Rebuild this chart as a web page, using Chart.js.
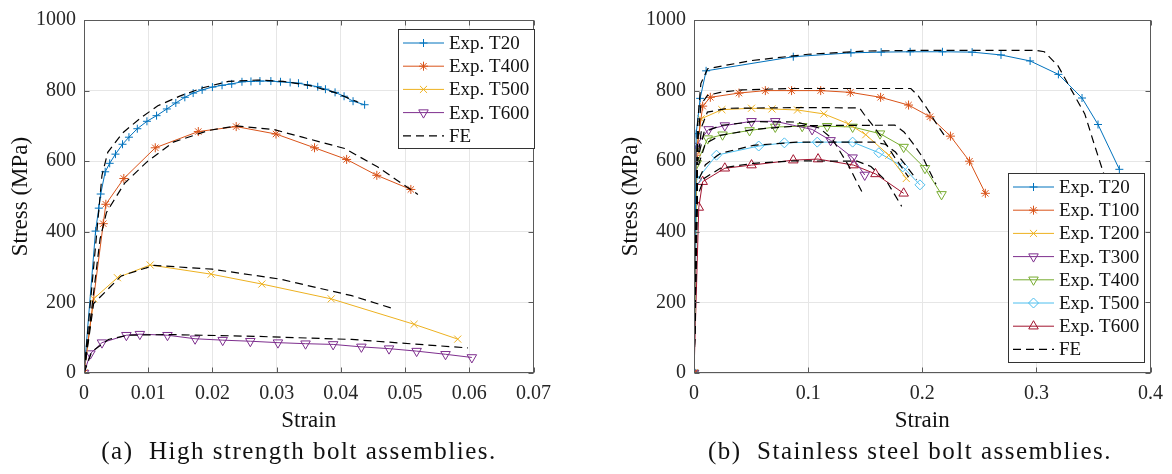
<!DOCTYPE html>
<html>
<head>
<meta charset="utf-8">
<script src="https://cdn.jsdelivr.net/npm/chart.js@4.4.1/dist/chart.umd.min.js"></script>
<style>
body{margin:0;background:#fff;width:1172px;height:474px;position:relative;overflow:hidden;font-family:"Liberation Serif",serif}
canvas{position:absolute;top:0}
#c1{left:0}
#c2{left:610px}
.cap{position:absolute;top:437px;font-size:25px;letter-spacing:1.5px;white-space:pre;transform:translateX(-50%);color:#111}
</style>
</head>
<body>
<canvas id="c1" width="560" height="440"></canvas>
<canvas id="c2" width="562" height="440"></canvas>
<div class="cap" style="left:299px">(a)  High strength bolt assemblies.</div>
<div class="cap" style="left:910px">(b)  Stainless steel bolt assemblies.</div>
<script>
// (a) high strength bolts, [strain, stress MPa]
const hsT20 = [[0,0],[0.0018,402],[0.0023,467],[0.0026,507],[0.0033,570],[0.0040,594],[0.0049,620],[0.0060,648],[0.0070,668],[0.0083,692],[0.0098,713],[0.0113,729],[0.0129,748],[0.0143,765],[0.0157,781],[0.0170,793],[0.0184,802],[0.0200,810],[0.0215,815],[0.0230,819],[0.0246,825],[0.0260,826],[0.0274,827],[0.0291,827],[0.0306,825],[0.0321,823],[0.0334,821],[0.0348,816],[0.0364,811],[0.0376,804],[0.0391,795],[0.0405,784],[0.0419,770],[0.0437,760]]
const hsT400 = [[0,0],[0.0030,423],[0.0034,478],[0.0062,551],[0.0111,638],[0.0178,684],[0.0237,698],[0.0299,677],[0.0359,638],[0.0409,605],[0.0456,560],[0.0509,520]]
const hsT500 = [[0,0],[0.0015,210],[0.0052,270],[0.0103,306],[0.0198,280],[0.0277,252],[0.0385,210],[0.0514,138],[0.0582,96]]
const hsT600 = [[0,0],[0.0010,55],[0.0028,86],[0.0066,107],[0.0087,110],[0.0130,107],[0.0173,97],[0.0216,93],[0.0259,90],[0.0302,86],[0.0345,83],[0.0388,81],[0.0432,74],[0.0475,69],[0.0518,62],[0.0563,53],[0.0604,44]]
const hsFE20 = [[0,0],[0.0028,560],[0.0037,625],[0.0060,680],[0.0090,725],[0.0115,757],[0.0150,785],[0.0185,808],[0.0225,826],[0.0270,830],[0.0310,826],[0.0350,815],[0.0390,795],[0.0427,767]]
const hsFE400 = [[0,0],[0.0025,380],[0.0035,455],[0.0063,537],[0.0098,598],[0.0139,654],[0.0194,687],[0.0237,700],[0.0295,690],[0.0340,668],[0.0406,636],[0.0457,584],[0.0520,506]]
const hsFE500 = [[0,0],[0.0015,197],[0.0058,275],[0.0109,305],[0.0200,294],[0.0305,266],[0.0417,219],[0.0482,182]]
const hsFE600 = [[0,0],[0.0012,60],[0.0038,95],[0.0068,107],[0.0129,109],[0.0265,104],[0.0417,95],[0.0598,71]]

// (b) stainless steel bolts
const ssT20 = [[0,0],[0.0019,678],[0.0054,778],[0.0106,856],[0.087,896],[0.1375,907],[0.164,909],[0.1894,910],[0.2177,910],[0.2437,909],[0.269,901],[0.2945,884],[0.3193,846],[0.340,779],[0.354,704],[0.3727,577]]
const ssT100 = [[0,0],[0.0019,617],[0.0076,756],[0.0143,781],[0.0394,793],[0.0625,800],[0.0855,800],[0.111,800],[0.137,795],[0.1635,781],[0.188,759],[0.2068,726],[0.2247,671],[0.2414,600],[0.2553,509]]
const ssT200 = [[0,0],[0.0020,630],[0.0062,720],[0.0244,746],[0.0504,750],[0.0683,748],[0.0907,745],[0.1138,734],[0.1352,706],[0.1505,675],[0.1707,617],[0.186,551]]
const ssT300 = [[0,0],[0.0013,643],[0.0128,690],[0.027,701],[0.0504,713],[0.0712,713],[0.1035,690],[0.1197,659],[0.139,610],[0.1496,561]]
const ssT400 = [[0,0],[0.0024,594],[0.012,664],[0.025,675],[0.0487,687],[0.0712,697],[0.0948,699],[0.1167,699],[0.139,697],[0.163,678],[0.1837,640],[0.2024,580],[0.2169,506]]
const ssT500 = [[0,0],[0.0024,547],[0.0197,617],[0.0567,643],[0.0792,652],[0.108,654],[0.139,654],[0.162,624],[0.183,584],[0.198,533]]
const ssT600 = [[0,0],[0.0042,469],[0.0076,542],[0.027,580],[0.0504,589],[0.087,603],[0.1087,606],[0.1398,589],[0.159,564],[0.1837,509]]
const ssFE20 = [[0,0],[0.003,700],[0.006,820],[0.012,862],[0.05,885],[0.1,903],[0.15,912],[0.2,914],[0.25,914],[0.3,914],[0.307,910],[0.319,870],[0.331,800],[0.3424,734],[0.351,645],[0.359,565]]
const ssFE100 = [[0,0],[0.003,640],[0.006,760],[0.0117,786],[0.023,795],[0.042,802],[0.0855,806],[0.19,806],[0.1965,785],[0.204,750],[0.2125,706],[0.221,665]]
const ssFE200 = [[0,0],[0.003,600],[0.007,700],[0.0117,739],[0.03,750],[0.1,752],[0.145,751],[0.149,733],[0.156,704],[0.165,665],[0.175,615],[0.188,555]]
const ssFE300 = [[0,0],[0.003,600],[0.0088,682],[0.023,701],[0.052,712],[0.0896,711],[0.1098,694],[0.121,664],[0.135,590],[0.147,514]]
const ssFE400 = [[0,0],[0.003,580],[0.01,650],[0.023,673],[0.052,690],[0.095,701],[0.176,702],[0.184,683],[0.192,650],[0.201,608],[0.2066,570],[0.212,535]]
const ssFE500 = [[0,0],[0.003,540],[0.01,590],[0.023,622],[0.052,645],[0.09,654],[0.158,654],[0.1675,648],[0.1765,626],[0.1866,584],[0.195,548]]
const ssFE600 = [[0,0],[0.003,500],[0.0088,551],[0.023,580],[0.052,594],[0.087,601],[0.143,600],[0.155,585],[0.169,542],[0.182,472]]

const hsLabels = ['Exp. T20','Exp. T400','Exp. T500','Exp. T600']
const ssLabels = ['Exp. T20','Exp. T100','Exp. T200','Exp. T300','Exp. T400','Exp. T500','Exp. T600']
const yTicks = [0,200,400,600,800,1000]

const BLUE='#0072BD', ORANGE='#D95319', YELLOW='#EDB120', PURPLE='#7E2F8E', GREEN='#77AC30', CYAN='#4DBEEE', RED='#A2142F'

const FONT = "'Liberation Serif', 'DejaVu Serif', serif"
Chart.defaults.font.family = FONT
Chart.defaults.color = '#262626'

function exp(label, pts, color, style, rot, r){
  return {
    label: label,
    data: pts.map(p => ({x:p[0], y:p[1]})),
    borderColor: color, borderWidth: 1,
    pointStyle: style, pointRotation: rot, pointRadius: r,
    pointBorderColor: color, pointBackgroundColor: 'rgba(0,0,0,0)', pointBorderWidth: 1,
    tension: 0, fill: false
  }
}
function fe(pts){
  return {
    label: 'FE',
    data: pts.map(p => ({x:p[0], y:p[1]})),
    borderColor: '#000', borderWidth: 1.2, borderDash: [8,5],
    pointRadius: 0, tension: 0, fill: false, order: -1
  }
}

// box round the plot with inward ticks, like matlab
const framePlugin = {
  id: 'frame',
  afterDraw(chart){
    const ctx = chart.ctx, a = chart.chartArea
    const xs = chart.scales.x, ys = chart.scales.y
    ctx.save()
    ctx.strokeStyle = '#5a5a5a'
    ctx.lineWidth = 1
    const L = Math.round(a.left)+0.5, R = Math.round(a.right)-0.5
    const T = Math.round(a.top)+0.5, B = Math.round(a.bottom)-0.5
    ctx.strokeRect(L, T, R-L, B-T)
    ctx.beginPath()
    xs.ticks.forEach(t => {
      const px = Math.round(xs.getPixelForValue(t.value))+0.5
      ctx.moveTo(px, B); ctx.lineTo(px, B-5)
      ctx.moveTo(px, T); ctx.lineTo(px, T+5)
    })
    ys.ticks.forEach(t => {
      const py = Math.round(ys.getPixelForValue(t.value))+0.5
      ctx.moveTo(L, py); ctx.lineTo(L+5, py)
      ctx.moveTo(R, py); ctx.lineTo(R-5, py)
    })
    ctx.stroke()

    // legend box
    const lg = chart.options.plugins.boxLegend
    const items = lg.items
    ctx.fillStyle = '#fff'
    ctx.fillRect(lg.x, lg.y, lg.w, lg.h)
    ctx.strokeStyle = '#333'
    ctx.strokeRect(lg.x+0.5, lg.y+0.5, lg.w, lg.h)
    ctx.font = '19px ' + FONT
    ctx.textBaseline = 'middle'
    items.forEach((it, i) => {
      const cy = lg.y + 14 + i*23.2
      const x0 = lg.x + 5, x1 = lg.x + 46
      ctx.save()
      ctx.strokeStyle = it.color
      ctx.lineWidth = it.dash ? 1.2 : 1
      ctx.setLineDash(it.dash || [])
      ctx.beginPath(); ctx.moveTo(x0, cy); ctx.lineTo(x1, cy); ctx.stroke()
      ctx.setLineDash([])
      if (it.style){
        ctx.fillStyle = 'rgba(0,0,0,0)'
        Chart.helpers.drawPoint(ctx, {pointStyle: it.style, rotation: it.rot, radius: it.r, borderWidth: 1}, (x0+x1)/2, cy)
      }
      ctx.restore()
      ctx.fillStyle = '#111'
      ctx.fillText(it.label, lg.x + 51, cy + 1)
    })
    ctx.restore()
  }
}

function makeOptions(xmax, xstep, dec, legend){
  return {
    responsive: false, animation: false, events: [],
    layout: {padding: {top: 17, right: 14, left: 0, bottom: 0}},
    plugins: {legend: {display: false}, tooltip: {enabled: false}, boxLegend: legend},
    scales: {
      x: {
        type: 'linear', min: 0, max: xmax,
        ticks: {stepSize: xstep, padding: 9, font: {family: FONT, size: 20}, color: '#262626',
          callback: v => String(+v.toFixed(dec))},
        grid: {color: '#e6e6e6', drawTicks: false},
        border: {display: false},
        title: {display: true, text: 'Strain', font: {family: FONT, size: 23}, color: '#111', padding: {top: 0, bottom: 5}},
        afterFit: s => { s.height = 67 }
      },
      y: {
        type: 'linear', min: 0, max: 1000,
        afterBuildTicks: s => { s.ticks = yTicks.map(v => ({value: v})) },
        ticks: {padding: 8, font: {family: FONT, size: 20}, color: '#262626', callback: v => String(v)},
        grid: {color: '#e6e6e6', drawTicks: false},
        border: {display: false},
        title: {display: true, text: 'Stress (MPa)', font: {family: FONT, size: 23}, color: '#111', padding: {top: 7, bottom: 0}},
        afterFit: s => { s.width = 84 }
      }
    }
  }
}

const DASH = [8,5]

new Chart(document.getElementById('c1'), {
  type: 'line',
  data: {datasets: [
    exp(hsLabels[0], hsT20, BLUE, 'cross', 0, 4),
    exp(hsLabels[1], hsT400, ORANGE, 'star', 0, 4.5),
    exp(hsLabels[2], hsT500, YELLOW, 'crossRot', 0, 5),
    exp(hsLabels[3], hsT600, PURPLE, 'triangle', 180, 5.5),
    fe(hsFE20), fe(hsFE400), fe(hsFE500), fe(hsFE600)
  ]},
  options: makeOptions(0.07, 0.01, 2, {
    x: 398, y: 29, w: 136, h: 119,
    items: [
      {label: hsLabels[0], color: BLUE, style: 'cross', rot: 0, r: 4},
      {label: hsLabels[1], color: ORANGE, style: 'star', rot: 0, r: 4.5},
      {label: hsLabels[2], color: YELLOW, style: 'crossRot', rot: 0, r: 5},
      {label: hsLabels[3], color: PURPLE, style: 'triangle', rot: 180, r: 5.5},
      {label: 'FE', color: '#000', dash: DASH}
    ]
  }),
  plugins: [framePlugin]
})

new Chart(document.getElementById('c2'), {
  type: 'line',
  data: {datasets: [
    exp(ssLabels[0], ssT20, BLUE, 'cross', 0, 4),
    exp(ssLabels[1], ssT100, ORANGE, 'star', 0, 4.5),
    exp(ssLabels[2], ssT200, YELLOW, 'crossRot', 0, 5),
    exp(ssLabels[3], ssT300, PURPLE, 'triangle', 180, 5.5),
    exp(ssLabels[4], ssT400, GREEN, 'triangle', 180, 5.5),
    exp(ssLabels[5], ssT500, CYAN, 'rectRot', 0, 5),
    exp(ssLabels[6], ssT600, RED, 'triangle', 0, 5.5),
    fe(ssFE20), fe(ssFE100), fe(ssFE200), fe(ssFE300), fe(ssFE400), fe(ssFE500), fe(ssFE600)
  ]},
  options: makeOptions(0.4, 0.1, 1, {
    x: 398, y: 173, w: 136, h: 189,
    items: [
      {label: ssLabels[0], color: BLUE, style: 'cross', rot: 0, r: 4},
      {label: ssLabels[1], color: ORANGE, style: 'star', rot: 0, r: 4.5},
      {label: ssLabels[2], color: YELLOW, style: 'crossRot', rot: 0, r: 5},
      {label: ssLabels[3], color: PURPLE, style: 'triangle', rot: 180, r: 5.5},
      {label: ssLabels[4], color: GREEN, style: 'triangle', rot: 180, r: 5.5},
      {label: ssLabels[5], color: CYAN, style: 'rectRot', rot: 0, r: 5},
      {label: ssLabels[6], color: RED, style: 'triangle', rot: 0, r: 5.5},
      {label: 'FE', color: '#000', dash: DASH}
    ]
  }),
  plugins: [framePlugin]
})
</script>
</body>
</html>
